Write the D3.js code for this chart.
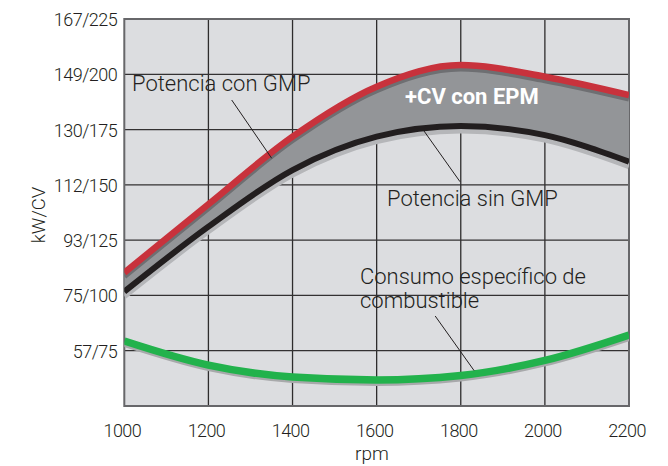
<!DOCTYPE html>
<html>
<head>
<meta charset="utf-8">
<script src="https://cdn.jsdelivr.net/npm/d3@7"></script>
<style>
  html, body { margin: 0; padding: 0; background: #ffffff; }
  svg text { font-family: Roboto, "Noto Sans", sans-serif; fill: #231f20; font-weight: 300; }
</style>
</head>
<body>
<svg id="chart" width="668" height="466"></svg>
<script>
// ---- data ----
const rpm = [1000, 1200, 1400, 1600, 1800, 2000, 2200];
const potenciaConGMP = [110.3, 141.2, 171.8, 194.4, 204.2, 198.9, 190.6];
const potenciaSinGMP = [101.7, 131.1, 156.7, 171.8, 176.6, 172.5, 160.5];
const consumoEspecifico = [79.4, 68.5, 63.1, 61.8, 63.8, 70.6, 82.1];
const xTicks = [1000, 1200, 1400, 1600, 1800, 2000, 2200];
const yTickValues = [75, 100, 125, 150, 175, 200, 225];
const yTickLabels = ["57/75", "75/100", "93/125", "112/150", "130/175", "149/200", "167/225"];
const yGrid = [50, 75, 100, 125, 150, 175, 200, 225];

// ---- layout ----
const svg = d3.select("#chart");
const m = { left: 124.3, right: 629, top: 19, bottom: 406 };
const x = d3.scaleLinear().domain([1000, 2200]).range([m.left, m.right]);
const y = d3.scaleLinear().domain([50, 225]).range([m.bottom, m.top]);

svg.append("defs").append("clipPath").attr("id", "plotclip")
  .append("rect").attr("x", m.left).attr("y", m.top)
  .attr("width", m.right - m.left).attr("height", m.bottom - m.top);

// background
svg.append("rect").attr("x", m.left).attr("y", m.top)
  .attr("width", m.right - m.left).attr("height", m.bottom - m.top)
  .attr("fill", "#dcdde0");

// grid
const grid = svg.append("g");
grid.selectAll("line.v").data(xTicks.slice(1, -1)).join("line")
  .attr("x1", d => x(d)).attr("x2", d => x(d))
  .attr("y1", m.top).attr("y2", m.bottom)
  .attr("stroke", "#2e2c2d").attr("stroke-width", 1.3);
grid.selectAll("line.h").data(yGrid.slice(1, -1)).join("line")
  .attr("x1", m.left).attr("x2", m.right)
  .attr("y1", d => y(d)).attr("y2", d => y(d))
  .attr("stroke", "#333132").attr("stroke-width", 1.3);

// border
svg.append("rect").attr("x", m.left).attr("y", m.top)
  .attr("width", m.right - m.left).attr("height", m.bottom - m.top)
  .attr("fill", "none").attr("stroke", "#67676a").attr("stroke-width", 2);

// axes (labels only)
const xAxis = d3.axisBottom(x).tickValues(xTicks).tickSize(0).tickPadding(0).tickFormat(d3.format("d"));
const gx = svg.append("g").attr("transform", `translate(-2.5,${m.bottom})`).call(xAxis);
gx.select(".domain").remove();
gx.selectAll("text").attr("y", 31).attr("dy", 0)
  .style("font-size", "18px").style("letter-spacing", "-0.6px").attr("fill", "#231f20");

const yAxis = d3.axisLeft(y).tickValues(yTickValues).tickSize(0).tickPadding(0)
  .tickFormat((d, i) => yTickLabels[i]);
const gy = svg.append("g").attr("transform", `translate(${m.left - 7},0)`).call(yAxis);
gy.select(".domain").remove();
gy.selectAll("text").attr("dy", "0.36em")
  .style("font-size", "18px").style("letter-spacing", "-0.5px").attr("fill", "#231f20");

svg.append("text").attr("x", 372).attr("y", 460).attr("text-anchor", "middle")
  .style("font-size", "19px").text("rpm");
svg.append("text").attr("transform", "translate(45,215) rotate(-90)")
  .attr("text-anchor", "middle").style("font-size", "18.5px").text("kW/CV");

// curves
const plot = svg.append("g").attr("clip-path", "url(#plotclip)");
const con = rpm.map((r, i) => [r, potenciaConGMP[i]]);
const sin = rpm.map((r, i) => [r, potenciaSinGMP[i]]);
const cons = rpm.map((r, i) => [r, consumoEspecifico[i]]);
const curve = d3.curveMonotoneX;
const line = d3.line().x(d => x(d[0])).y(d => y(d[1])).curve(curve);
const area = d3.area().x((d, i) => x(rpm[i]))
  .y0((d, i) => y(potenciaSinGMP[i])).y1((d, i) => y(potenciaConGMP[i])).curve(curve);

plot.append("path").datum(rpm).attr("d", area).attr("fill", "#939598");
// light shadow under black
plot.append("path").datum(sin).attr("d", line).attr("transform", "translate(0,4.5)")
  .attr("fill", "none").attr("stroke", "#b5b6b9").attr("stroke-width", 6);
plot.append("path").datum(sin).attr("d", line)
  .attr("fill", "none").attr("stroke", "#221e1f").attr("stroke-width", 6);
// dark band under red
plot.append("path").datum(con).attr("d", line).attr("transform", "translate(0,3.5)")
  .attr("fill", "none").attr("stroke", "#6e6f72").attr("stroke-width", 6);
plot.append("path").datum(con).attr("d", line)
  .attr("fill", "none").attr("stroke", "#c8323c").attr("stroke-width", 6.5);
// green
plot.append("path").datum(cons).attr("d", line).attr("transform", "translate(0,2.5)")
  .attr("fill", "none").attr("stroke", "#a8a9ab").attr("stroke-width", 7);
plot.append("path").datum(cons).attr("d", line)
  .attr("fill", "none").attr("stroke", "#22b24c").attr("stroke-width", 7.5);

// annotations
const ann = svg.append("g");
ann.append("line").attr("x1", 231.7).attr("y1", 100).attr("x2", 271.7).attr("y2", 158.3)
  .attr("stroke", "#231f20").attr("stroke-width", 1);
ann.append("line").attr("x1", 423.3).attr("y1", 130).attr("x2", 460).attr("y2", 181.7)
  .attr("stroke", "#231f20").attr("stroke-width", 1);
ann.append("line").attr("x1", 435.2).attr("y1", 316).attr("x2", 474.1).attr("y2", 370.6)
  .attr("stroke", "#231f20").attr("stroke-width", 1);

ann.append("text").attr("x", 132).attr("y", 91).style("font-size", "22px").text("Potencia con GMP");
ann.append("text").attr("x", 387).attr("y", 205.7).style("font-size", "22px").text("Potencia sin GMP");
ann.append("text").attr("x", 405).attr("y", 104).style("font-size", "22px")
  .style("font-weight", "bold").style("fill", "#ffffff").text("+CV con EPM");
const t = ann.append("text").attr("x", 360).attr("y", 284).style("font-size", "22px");
t.append("tspan").attr("x", 360).attr("y", 284).text("Consumo específico de");
t.append("tspan").attr("x", 360).attr("y", 308).text("combustible");
</script>
</body>
</html>
